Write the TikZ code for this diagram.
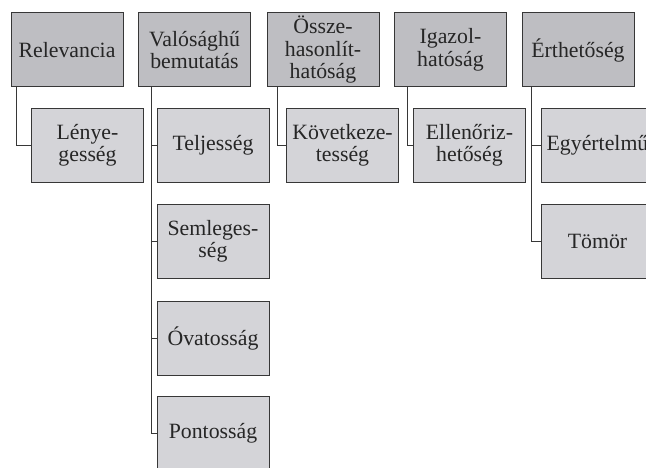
\documentclass[tikz,border=0pt]{standalone}
\usepackage{fontspec}
\setmainfont{Liberation Serif}
\definecolor{topfill}{RGB}{190,190,194}
\definecolor{subfill}{RGB}{212,212,216}
\definecolor{edge}{RGB}{55,55,55}
\begin{document}
\begin{tikzpicture}[x=1pt,y=-1pt,
  box/.style={draw=edge,line width=1pt,minimum width=112pt,minimum height=74pt,inner sep=0pt,align=center,
    font=\fontsize{21.8}{22.5}\selectfont,text=black!85},
  topbox/.style={box,fill=topfill},
  subbox/.style={box,fill=subfill},
  link/.style={draw=edge,line width=1pt}]
\useasboundingbox (0,0) rectangle (646,468);
\clip (0,0) rectangle (646,468);
% top row
\node[topbox] (rel) at (67,50) {Relevancia};
\node[topbox] (val) at (194.5,50) {Valósághű\\bemutatás};
\node[topbox] (oss) at (323,50) {Össze-\\hasonlít-\\hatóság};
\node[topbox] (iga) at (450.5,50) {Igazol-\\hatóság};
\node[topbox] (ert) at (578,50) {Érthetőség};
% children
\node[subbox] (len) at (87.5,145.5) {Lénye-\\gesség};
\node[subbox] (tel) at (213,145.5) {Teljesség};
\node[subbox] (sem) at (213,241.5) {Semleges-\\ség};
\node[subbox] (ova) at (213,338) {Óvatosság};
\node[subbox] (pon) at (213,433.5) {Pontosság};
\node[subbox] (kov) at (342.5,145.5) {Következe-\\tesség};
\node[subbox] (ell) at (469.5,145.5) {Ellenőriz-\\hetőség};
\node[subbox] (egy) at (597.5,145.5) {Egyértelmű};
\node[subbox] (tom) at (597.5,241.5) {Tömör};
% connectors
\draw[link] ([xshift=6pt]rel.south west) |- (len.west);
\draw[link] ([xshift=13pt]val.south west) |- (tel.west);
\draw[link] ([xshift=13pt]val.south west) |- (sem.west);
\draw[link] ([xshift=13pt]val.south west) |- (ova.west);
\draw[link] ([xshift=13pt]val.south west) |- (pon.west);
\draw[link] ([xshift=11pt]oss.south west) |- (kov.west);
\draw[link] ([xshift=13pt]iga.south west) |- (ell.west);
\draw[link] ([xshift=10pt]ert.south west) |- (egy.west);
\draw[link] ([xshift=10pt]ert.south west) |- (tom.west);
\end{tikzpicture}
\end{document}
